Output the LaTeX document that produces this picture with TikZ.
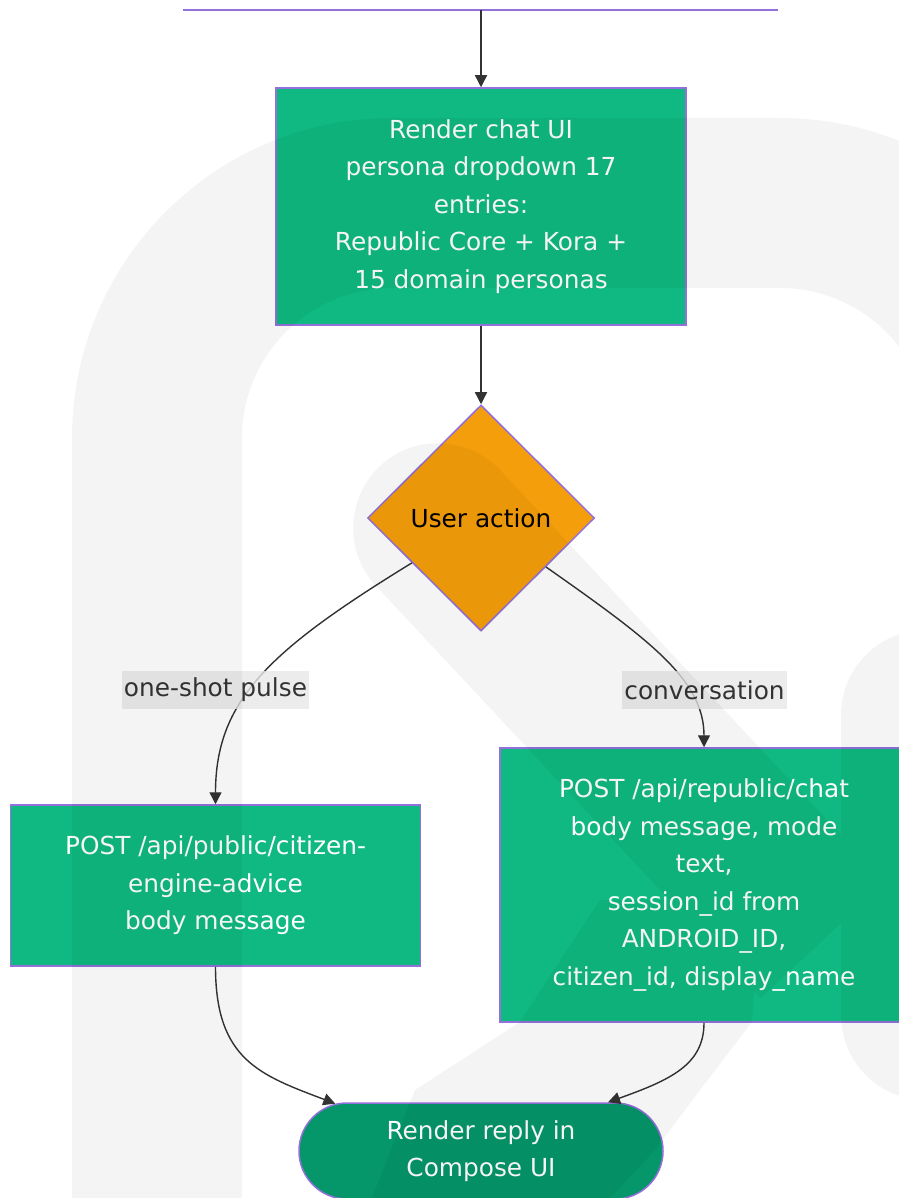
\documentclass[tikz,border=0pt]{standalone}
\usepackage{fontspec}
\setmainfont{DejaVu Sans}
\usetikzlibrary{arrows.meta,shapes.geometric,shapes.misc}

\definecolor{boxgreen}{HTML}{10B981}
\definecolor{darkgreen}{HTML}{059669}
\definecolor{amber}{HTML}{F59E0B}
\definecolor{edgepurple}{HTML}{9370DB}
\definecolor{linegrey}{HTML}{333333}
\definecolor{labelgrey}{HTML}{E8E8E8}

\begin{document}
\begin{tikzpicture}[x=1pt,y=-1pt,
  txt/.style={font=\fontsize{24.8pt}{37.5pt}\selectfont, align=center},
  stepbox/.style={txt, rectangle, draw=edgepurple, line width=1.5pt, fill=boxgreen, text=white, inner sep=0pt},
  choice/.style={txt, diamond, draw=edgepurple, line width=1.5pt, fill=amber, text=black, inner sep=0pt, shape aspect=1},
  endpill/.style={txt, rounded rectangle, draw=edgepurple, line width=1.5pt, fill=darkgreen, text=white, inner sep=0pt},
  flow/.style={draw=linegrey, line width=1.4pt, -{Triangle[length=12pt,width=12pt]}},
  edgelabel/.style={txt, fill=labelgrey, fill opacity=0.8, text opacity=1, text=linegrey, inner xsep=2pt, inner ysep=0pt, minimum height=38pt},
]
\useasboundingbox (0,0) rectangle (898,1198);
\fill[white] (0,0) rectangle (898,1198);

% bottom edge of the preceding step
\coordinate (topL) at (183,10);
\coordinate (topR) at (778,10);
\coordinate (prev) at (481,10);
\draw[edgepurple, line width=1.5pt] (topL) -- (topR);

% steps
\node[stepbox, minimum width=410pt, minimum height=237pt] (render) at (481,206.5)
  {Render chat UI\\persona dropdown 17\\entries:\\Republic Core + Kora +\\15 domain personas};
\node[choice, minimum width=227pt, minimum height=226pt] (act) at (481,518) {User action};
\node[stepbox, minimum width=410pt, minimum height=161pt] (advice) at (215.5,885.5)
  {POST /api/public/citizen-\\engine-advice\\body message};
\node[stepbox, minimum width=408pt, minimum height=274pt] (chat) at (704,885)
  {POST /api/republic/chat\\body message, mode\\text,\\session\_id from\\ANDROID\_ID,\\citizen\_id, display\_name};
\node[endpill, minimum width=364pt, minimum height=96pt] (reply) at (481,1151)
  {Render reply in\\Compose UI};

% connectors
\draw[flow] (prev) -- (render);
\draw[flow] (render) -- (act);
\draw[flow] (act.213) .. controls (270,650) and (215.5,700) .. (advice.north);
\draw[flow] (act.323) .. controls (650,640) and (704,680) .. (chat.north);
\draw[flow] (advice.south) .. controls (215.5,1060) and (260,1075) .. (reply.162);
\draw[flow] (chat.south) .. controls (704,1065) and (670,1080) .. (reply.21);

% branch labels
\node[edgelabel] (lblpulse) at (215.5,690) {one-shot pulse};
\node[edgelabel] (lblconv) at (704.5,690) {conversation};

% faint logo watermark laid over everything
\fill[black, fill opacity=0.045]
  % stem and arch
  (72,1198) -- (72,438) .. controls (72,261.3) and (215.3,118) .. (392,118)
  -- (780,118) .. controls (956.7,118) and (1100,261.3) .. (1100,438)
  -- (930,438) .. controls (930,355.2) and (862.8,288) .. (780,288)
  -- (392,288) .. controls (309.2,288) and (242,355.2) .. (242,438)
  -- (242,1198) -- cycle
  % right lobe
  (841,1015) -- (841,715) .. controls (841,668) and (879,630) .. (926,630)
  -- (1010,630) -- (1010,1100) -- (926,1100) .. controls (879,1100) and (841,1062) .. (841,1015) -- cycle
  % diagonal stroke with rounded head
  (376,586) .. controls (344,552) and (346,498) .. (380,466)
  .. controls (414,434) and (468,436) .. (500,470)
  -- (885,882) -- (761,998) -- cycle
  % lower wedge
  (372,1198) -- (415,1090) -- (520,1022) -- (600,900) -- (760,900)
  -- (752,1022) -- (700,1090) -- (655,1150) -- (610,1198) -- cycle;
\end{tikzpicture}
\end{document}
